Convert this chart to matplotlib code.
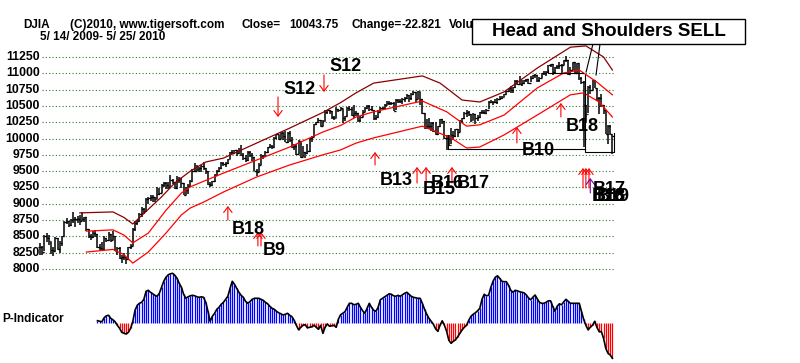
import matplotlib
matplotlib.use("Agg")
import matplotlib.pyplot as plt
from matplotlib.patches import Rectangle

plt.rcParams['font.family'] = ['Liberation Sans', 'DejaVu Sans']

# DJIA daily bars, 5/14/2009 - 5/25/2010
closes = [
    8331, 8268, 8504, 8474, 8422, 8292, 8277, 8473, 8300, 8404, 8500,  # May 09
    8721, 8740, 8675, 8750, 8764, 8764, 8763, 8739, 8770, 8799, 8612, 8504, 8497, 8555, 8539, 8339, 8323, 8299, 8472, 8438, 8529, 8447,
    8504, 8280, 8324, 8163, 8178, 8183, 8146, 8332, 8359, 8616, 8711, 8743, 8848, 8916, 8882, 9069, 9093, 9108, 9097, 9070, 9154, 9171,
    9286, 9320, 9280, 9256, 9370, 9337, 9241, 9362, 9398, 9321, 9135, 9217, 9279, 9350, 9505, 9509, 9539, 9543, 9580, 9544, 9496,
    9310, 9280, 9344, 9441, 9497, 9547, 9627, 9605, 9626, 9683, 9791, 9783, 9820, 9778, 9829, 9748, 9707, 9665, 9789, 9742, 9712,
    9509, 9487, 9599, 9731, 9725, 9786, 9865, 9885, 9871, 10015, 10062, 9995, 10092, 10041, 9949, 10081, 9972, 9868, 9882, 9762, 9962, 9712,
    9789, 9771, 9802, 10005, 10023, 10226, 10247, 10291, 10197, 10270, 10406, 10437, 10427, 10332, 10318, 10450, 10433, 10464, 10309, 10344,
    10471, 10452, 10366, 10388, 10390, 10286, 10337, 10405, 10471, 10501, 10452, 10441, 10309, 10328, 10414, 10464, 10466, 10520, 10547, 10545, 10548, 10428,
    10584, 10573, 10573, 10607, 10618, 10663, 10627, 10680, 10710, 10609, 10725, 10603, 10389, 10172, 10196, 10194, 10236, 10120, 10067,
    10185, 10297, 10270, 10002, 10012, 9908, 10058, 10038, 10144, 10099, 10268, 10309, 10392, 10402, 10383, 10282, 10374, 10321, 10325,
    10404, 10406, 10396, 10444, 10567, 10553, 10564, 10567, 10611, 10625, 10642, 10686, 10734, 10779, 10742, 10785, 10888, 10836, 10842, 10851, 10895, 10907, 10857,
    10927, 10974, 10970, 10898, 10928, 10997, 11005, 11019, 11123, 11145, 11019, 11092, 11117, 11124, 11134, 11204, 11205, 10991, 11045, 11167, 11008,
    11151, 10926, 10868, 10520, 10380, 10785, 10748, 10896, 10782, 10620, 10625, 10510, 10444, 10068, 10193, 10067, 10044,
]
highs = [
    8400, 8360, 8520, 8550, 8520, 8420, 8340, 8490, 8480, 8430, 8510,
    8740, 8780, 8740, 8760, 8880, 8790, 8810, 8830, 8880, 8800, 8790, 8620, 8540, 8590, 8600, 8540, 8380, 8420, 8500, 8470, 8560, 8530,
    8580, 8500, 8340, 8330, 8220, 8250, 8180, 8340, 8380, 8630, 8730, 8750, 8860, 8950, 8930, 9090, 9100, 9130, 9140, 9100, 9250, 9240,
    9310, 9330, 9330, 9330, 9440, 9380, 9340, 9420, 9410, 9400, 9320, 9250, 9300, 9370, 9540, 9620, 9590, 9560, 9600, 9640, 9550,
    9500, 9330, 9350, 9460, 9520, 9560, 9640, 9640, 9640, 9690, 9800, 9830, 9830, 9820, 9860, 9900, 9780, 9740, 9810, 9810, 9780,
    9710, 9530, 9620, 9760, 9740, 9810, 9870, 9910, 9900, 10030, 10070, 10060, 10100, 10100, 10110, 10100, 10120, 10020, 9920, 9910, 9980, 9960,
    9880, 9800, 9920, 10010, 10040, 10230, 10250, 10320, 10290, 10290, 10430, 10440, 10440, 10420, 10340, 10480, 10460, 10480, 10460, 10350,
    10480, 10500, 10480, 10510, 10420, 10390, 10350, 10440, 10490, 10520, 10510, 10500, 10440, 10360, 10440, 10480, 10490, 10530, 10580, 10580, 10560, 10560,
    10600, 10600, 10600, 10620, 10630, 10680, 10670, 10700, 10730, 10720, 10730, 10720, 10610, 10390, 10300, 10310, 10260, 10260, 10250,
    10190, 10300, 10300, 10270, 10050, 10060, 10160, 10110, 10150, 10140, 10290, 10320, 10400, 10440, 10420, 10380, 10390, 10370, 10360,
    10410, 10440, 10440, 10450, 10570, 10590, 10580, 10600, 10620, 10650, 10650, 10690, 10750, 10780, 10800, 10790, 10900, 10890, 10960, 10900, 10900, 10920, 10910,
    10960, 10980, 10990, 10970, 10940, 11000, 11030, 11030, 11130, 11150, 11150, 11100, 11130, 11180, 11140, 11210, 11260, 11210, 11090, 11170, 11180,
    11160, 11150, 10940, 10880, 10520, 10800, 10820, 10900, 10900, 10780, 10640, 10680, 10520, 10440, 10200, 10200, 10050,
]
lows = [
    8210, 8220, 8270, 8420, 8370, 8230, 8200, 8270, 8290, 8250, 8350,
    8500, 8690, 8640, 8660, 8700, 8640, 8710, 8680, 8730, 8720, 8580, 8480, 8440, 8470, 8490, 8320, 8290, 8280, 8290, 8410, 8430, 8420,
    8440, 8270, 8220, 8150, 8090, 8140, 8080, 8140, 8310, 8360, 8580, 8680, 8740, 8800, 8840, 8870, 8990, 9050, 9020, 9020, 9080, 9140,
    9170, 9260, 9230, 9220, 9260, 9300, 9220, 9230, 9320, 9240, 9130, 9140, 9150, 9260, 9350, 9490, 9500, 9480, 9490, 9520, 9450,
    9290, 9250, 9270, 9340, 9440, 9480, 9540, 9580, 9560, 9610, 9680, 9760, 9760, 9730, 9770, 9730, 9670, 9640, 9660, 9720, 9660,
    9500, 9430, 9480, 9600, 9680, 9720, 9780, 9850, 9840, 9870, 9990, 9970, 9990, 9970, 9940, 9930, 9940, 9850, 9830, 9750, 9760, 9700,
    9710, 9700, 9760, 9800, 9950, 10020, 10200, 10240, 10180, 10190, 10270, 10380, 10380, 10300, 10280, 10320, 10410, 10430, 10240, 10270,
    10350, 10420, 10350, 10320, 10340, 10260, 10250, 10330, 10400, 10460, 10420, 10420, 10290, 10280, 10320, 10410, 10440, 10460, 10510, 10520, 10510, 10420,
    10430, 10540, 10550, 10530, 10560, 10600, 10560, 10590, 10660, 10560, 10600, 10520, 10370, 10150, 10150, 10140, 10120, 10100, 10050,
    10060, 10180, 10230, 9990, 9830, 9890, 9910, 9980, 10020, 10020, 10100, 10240, 10300, 10330, 10350, 10250, 10280, 10230, 10270,
    10320, 10380, 10370, 10380, 10450, 10540, 10520, 10550, 10530, 10590, 10600, 10640, 10680, 10720, 10700, 10700, 10780, 10820, 10830, 10800, 10840, 10860, 10840,
    10860, 10920, 10930, 10870, 10870, 10930, 10980, 10960, 11020, 11090, 10980, 11000, 11070, 11060, 11010, 11120, 11180, 10980, 10990, 11050, 11000,
    11000, 10900, 10840, 9870, 10260, 10390, 10690, 10740, 10770, 10580, 10380, 10480, 10380, 10070, 9920, 10060, 9770,
]

# band lines (bar index, value)
upper_idx = [18, 33, 38, 42, 46, 55, 61, 68, 75, 83, 98, 113, 128, 136, 143, 151, 173, 181, 191, 199, 210, 225, 240, 247, 255, 259]
upper_val = [8860, 8875, 8790, 8690, 8820, 9105, 9320, 9500, 9640, 9700, 9930, 10160, 10400, 10550, 10700, 10850, 10960, 10850, 10590, 10560, 10715, 11080, 11400, 11420, 11250, 11050]
mid_idx = [21, 33, 38, 42, 49, 57, 64, 68, 73, 83, 98, 113, 128, 136, 143, 151, 173, 184, 193, 199, 210, 225, 237, 244, 252, 259]
mid_val = [8580, 8600, 8520, 8400, 8550, 8900, 9165, 9260, 9330, 9470, 9670, 9870, 10100, 10200, 10330, 10410, 10575, 10410, 10190, 10210, 10360, 10775, 11005, 11050, 10865, 10670]
low_idx = [21, 33, 38, 42, 49, 57, 64, 68, 74, 83, 98, 113, 128, 136, 143, 151, 173, 186, 193, 199, 210, 225, 240, 246, 253, 259]
low_val = [8260, 8300, 8220, 8090, 8260, 8550, 8830, 8935, 9025, 9180, 9410, 9595, 9750, 9825, 9930, 10010, 10190, 10010, 9855, 9870, 10055, 10360, 10670, 10700, 10560, 10330]

# P-Indicator, last 234 bars
p_indicator = [
    2.6, 2, 1.5, 5.5, 7.5, 8, 5, 3.5, 1.5, -2,
    -5, -9, -10, -10.7, -9, -5, 2, 13, 18, 20,
    21, 24, 32, 33, 31, 29.5, 28, 27, 30, 36,
    42, 46, 48.5, 49.5, 50, 48, 45, 40, 36, 29,
    25, 26.5, 27.5, 28, 27.5, 26.5, 26, 26.5, 26, 21,
    12, 2, 7, 10, 14, 16, 19, 21, 24, 27,
    35, 42, 39, 35, 31, 28, 26, 22, 20, 21.6,
    24, 25, 25, 25, 24, 23, 21, 19.5, 17, 15,
    14, 12, 10.5, 9.5, 8.3, 9, 10, 8, 6.6, 3,
    -2, -6.5, -4, -2, -1.5, -4.5, -4, -3.5, -2, -4,
    -6, -2, -10, -4, -0.7, -3, -2.5, -2, -4, 4,
    8.5, 10, 11.6, 16, 20, 20, 18.5, 19, 20, 16,
    12.5, 10, 15, 20, 16, 13, 12, 16, 23.5, 25,
    26.5, 28, 29.5, 29, 27.5, 27, 28, 27, 28.5, 30,
    31, 29, 27, 26, 25.5, 25, 25, 20, 14, 9,
    5, 2, -1, -5.5, -8, -2, 2.5, -2, -8, -17,
    -20, -18, -16.5, -13.5, -10, -6.5, -4, -2, 3, 7,
    9, 10.5, 12.5, 15, 24, 29, 27.5, 28, 36, 42,
    46, 47.5, 45, 42, 41.6, 41.6, 38, 33, 31, 33,
    32.5, 31.6, 31, 30.5, 28.5, 25.5, 23.5, 26, 28.3, 24.5,
    21, 20, 20, 21, 22.5, 22.5, 17, 12, 17, 19.5,
    18.5, 21.5, 24, 22, 20, 20, 20, 20, 20, 12,
    4, -2, -6.5, -4, -2, 2, -4, -8.3, -8.3, -15,
    -25, -30, -31.6, -35,
]

y_ticks = [8000, 8250, 8500, 8750, 9000, 9250, 9500, 9750, 10000, 10250, 10500, 10750, 11000, 11250]

# signal arrows: (bar index, tip value, tail value, colour)
arrows = [
    (107.7, 10330, 10637, 'red'), (128.5, 10713, 10974, 'red'),
    (85, 8966, 8751, 'red'), (98.6, 8567, 8353, 'red'), (100, 8567, 8353, 'red'),
    (151.6, 9794, 9594, 'red'), (170.6, 9564, 9318, 'red'), (174.7, 9564, 9318, 'red'),
    (186.4, 9564, 9318, 'red'), (215.8, 10177, 9932, 'red'), (235.7, 10545, 10330, 'red'),
    (245.7, 9548, 9242, 'red'), (247, 9548, 9242, 'red'), (248.4, 9548, 9242, 'red'),
    (249, 9395, 9165, '#8000a0'),
]
# signal labels: (text, bar index, value)
labels = [
    ("S12", 110, 10744), ("S12", 131.2, 11097), ("B18", 86.9, 8598), ("B9", 100.9, 8291),
    ("B13", 153.8, 9349), ("B15", 173.3, 9226), ("B16", 176.9, 9303), ("B17", 188.7, 9303),
    ("B10", 218.1, 9809), ("B18", 238, 10192), ("B17", 250.2, 9226), ("B16", 249.8, 9104),
    ("B18", 250.2, 9104), ("B19", 252, 9104),
]

# hand drawn pattern lines (bar index lists, value lists)
neck_lines = [
    ([184.6, 184.6, 246.6], [10054, 9840, 9840]),
    ([246.6, 246.6, 259.8, 259.8], [10974, 9794, 9794, 10085]),
    ([229.9, 229.9, 245.7], [11050, 11005, 11005]),
    ([250.2, 247.1], [11449, 11020]),
    ([253.4, 251.6], [11449, 10974]),
]

W, H = 800, 363
PX_PER_BAR = 2.21
X0 = 40


def frect(x0, y0, x1, y1):
    return [x0 / W, 1 - y1 / H, (x1 - x0) / W, (y1 - y0) / H]


def xi(px):
    return (px - X0) / PX_PER_BAR


fig = plt.figure(figsize=(8, 3.63), dpi=100)

ax = fig.add_axes(frect(41, 38, 616, 275))
ax.set_xlim(xi(41), xi(616))
ax.set_ylim(7908, 11541)
ax.axis('off')

ax.hlines(y_ticks, xi(42), xi(615), colors='#2f7a2f', linestyles=(0, (1, 2)), lw=0.8, clip_on=False)
for v in y_ticks:
    ax.text(xi(40), v, str(v), ha='right', va='center', fontsize=8.8, fontweight='bold', clip_on=False)

n = len(closes)
idx = list(range(n))
opens = [closes[0]] + closes[:-1]
ax.vlines(idx, lows, highs, colors='black', lw=1.1, clip_on=False)
ax.hlines(opens, [i - 0.7 for i in idx], idx, colors='black', lw=0.9, clip_on=False)
ax.hlines(closes, idx, [i + 0.7 for i in idx], colors='black', lw=0.9, clip_on=False)

ax.plot(upper_idx, upper_val, color='#8b0000', lw=0.9, clip_on=False)
ax.plot(mid_idx, mid_val, color='#ff0000', lw=0.9, clip_on=False)
ax.plot(low_idx, low_val, color='#ff0000', lw=0.9, clip_on=False)

for xs, ys in neck_lines:
    ax.plot(xs, ys, color='black', lw=0.8, clip_on=False)

for x, tip, tail, c in arrows:
    ax.annotate('', xy=(x, tip), xytext=(x, tail), annotation_clip=False,
                arrowprops=dict(arrowstyle='->,head_length=0.4,head_width=0.3', color=c, lw=0.8,
                                shrinkA=0, shrinkB=0))

for txt, x, v in labels:
    ax.text(x, v, txt, ha='left', va='center', fontsize=13, fontweight='bold', clip_on=False)

# P-Indicator panel
pax = fig.add_axes(frect(41, 270, 616, 363))
pax.set_xlim(xi(41), xi(616))
pax.set_ylim(-39.7, 53.3)
pax.axis('off')
p_idx = list(range(n - len(p_indicator), n))
p_cols = ['#0000ff' if v >= 0 else '#ff0000' for v in p_indicator]
pax.vlines(p_idx, 0, p_indicator, colors=p_cols, lw=0.9)
pax.plot(p_idx, p_indicator, color='black', lw=1.2)
fig.text(2 / W, 1 - 319 / H, "P-Indicator", ha='left', va='center', fontsize=8.5, fontweight='bold')

# header
head_y = 1 - 25 / H
fig.text(23 / W, head_y, "DJIA", ha='left', va='center', fontsize=8.5, fontweight='bold')
fig.text(70 / W, head_y, "(C)2010, www.tigersoft.com", ha='left', va='center', fontsize=8.5, fontweight='bold')
fig.text(242 / W, head_y, "Close=", ha='left', va='center', fontsize=8.5, fontweight='bold')
fig.text(289 / W, head_y, "10043.75", ha='left', va='center', fontsize=8.5, fontweight='bold')
fig.text(351 / W, head_y, "Change=", ha='left', va='center', fontsize=8.5, fontweight='bold')
fig.text(402 / W, head_y, "-22.821", ha='left', va='center', fontsize=8.5, fontweight='bold')
fig.text(449 / W, head_y, "Volume=", ha='left', va='center', fontsize=8.5, fontweight='bold')
fig.text(40 / W, 1 - 37 / H, "5/ 14/ 2009- 5/ 25/ 2010", ha='left', va='center', fontsize=8.5, fontweight='bold')

box = Rectangle((472 / W, 1 - 44 / H), (745 - 472) / W, 25 / H, transform=fig.transFigure,
                facecolor='white', edgecolor='black', lw=1, zorder=5)
fig.patches.append(box)
fig.text(608.5 / W, 1 - 31.5 / H, "Head and Shoulders SELL", ha='center', va='center',
         fontsize=13.5, fontweight='bold', zorder=6)

fig.savefig("out.png", dpi=100, facecolor='white')
